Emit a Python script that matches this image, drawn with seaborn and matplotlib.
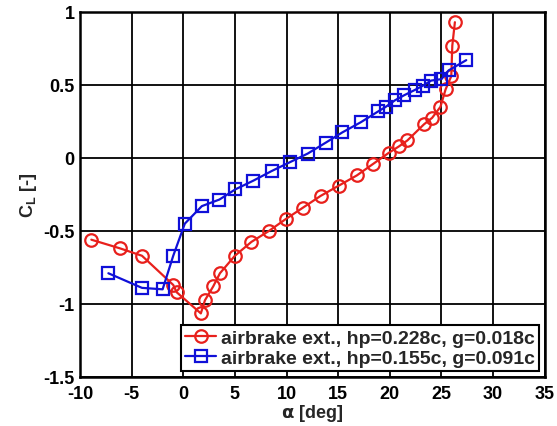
import numpy as np
import pandas as pd
import matplotlib
matplotlib.use('Agg')
import matplotlib.pyplot as plt
import seaborn as sns

# airbrake ext., hp=0.228c, g=0.018c
alpha_red = [-8.9, -6.1, -4.0, -0.97, -0.64, 1.7, 2.1, 2.9, 3.55, 5.0, 6.6, 8.3, 9.9,
             11.6, 13.3, 15.05, 16.8, 18.4, 19.9, 20.9, 21.7, 23.3, 24.1, 24.9, 25.4,
             25.95, 26.05, 26.3]
cl_red = [-0.56, -0.62, -0.67, -0.87, -0.92, -1.065, -0.975, -0.88, -0.79, -0.67, -0.575,
          -0.50, -0.42, -0.34, -0.26, -0.19, -0.12, -0.04, 0.035, 0.08, 0.12, 0.23, 0.275,
          0.35, 0.47, 0.56, 0.77, 0.93]

# airbrake ext., hp=0.155c, g=0.091c
alpha_blue = [-7.25, -4.0, -2.0, -0.97, 0.15, 1.8, 3.5, 5.05, 6.8, 8.55, 10.3, 12.05,
              13.8, 15.4, 17.2, 18.9, 19.6, 20.5, 21.4, 22.4, 23.2, 24.0, 25.0, 25.7, 27.4]
cl_blue = [-0.79, -0.89, -0.90, -0.67, -0.45, -0.33, -0.285, -0.215, -0.155, -0.09, -0.03,
           0.03, 0.105, 0.175, 0.245, 0.32, 0.35, 0.395, 0.43, 0.465, 0.495, 0.53, 0.54,
           0.60, 0.67]

labels = ['airbrake ext., hp=0.228c, g=0.018c', 'airbrake ext., hp=0.155c, g=0.091c']
xticks = list(range(-10, 36, 5))
yticks = [-1.5, -1, -0.5, 0, 0.5, 1]
yticklabels = ['-1.5', '-1', '-0.5', '0', '0.5', '1']

sns.set_style('white')
plt.rcParams['font.family'] = ['Liberation Sans', 'DejaVu Sans']
plt.rcParams['font.weight'] = 'bold'
plt.rcParams['axes.labelweight'] = 'bold'
plt.rcParams['mathtext.default'] = 'bf'

fig = plt.figure(figsize=(5.57, 4.27), dpi=100)
ax = fig.add_axes([0.1436, 0.115, 0.8344, 0.8546])

sns.lineplot(x=alpha_red, y=cl_red, ax=ax, sort=False, estimator=None, color='#e8201c',
             marker='o', ms=9, mfc='none', mec='#e8201c', mew=1.6, lw=1.6, label=labels[0])
sns.lineplot(x=alpha_blue, y=cl_blue, ax=ax, sort=False, estimator=None, color='#1010d8',
             marker='s', ms=8, mfc='none', mec='#1010d8', mew=1.6, lw=1.6, label=labels[1])

ax.set_xlim(-10, 35)
ax.set_ylim(-1.5, 1)
ax.set_xticks(xticks)
ax.set_yticks(yticks)
ax.set_yticklabels(yticklabels)
ax.set_xticklabels([str(v) for v in xticks])
ax.grid(True, color='black', lw=1.3)
ax.set_axisbelow(True)
for s in ax.spines.values():
    s.set_color('black')
    s.set_linewidth(1.8)
ax.tick_params(direction='in', length=4, width=1.3, labelsize=13, colors='black')
ax.tick_params(axis='x', pad=6)
ax.tick_params(axis='y', pad=4)
for t in ax.get_xticklabels() + ax.get_yticklabels():
    t.set_fontweight('bold')

ax.set_xlabel(r'$\alpha$ [deg]', fontsize=13, fontweight='bold', labelpad=0)
ax.set_ylabel(r'C$_\mathregular{L}$ [-]', fontsize=13, fontweight='bold', labelpad=3)

leg = ax.legend(loc='lower right', fontsize=14, frameon=True, fancybox=False,
                borderpad=0.2, labelspacing=0.15, handlelength=1.6, handletextpad=0.25,
                borderaxespad=0.3)
leg.get_frame().set_edgecolor('black')
leg.get_frame().set_linewidth(1.5)
leg.get_frame().set_alpha(1)
for t in leg.get_texts():
    t.set_fontweight('bold')

fig.savefig('out.png', dpi=100)
